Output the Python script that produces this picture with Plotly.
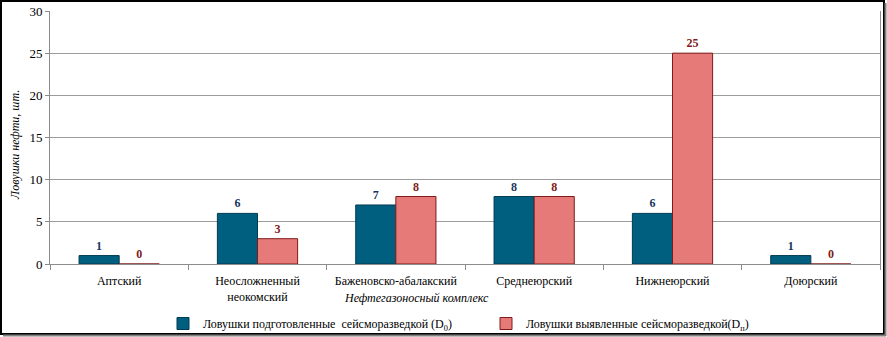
import plotly.graph_objects as go

# Oil-trap counts by petroleum complex
complexes = ["Аптский", "Неосложненный<br>неокомский", "Баженовско-абалакский",
             "Среднеюрский", "Нижнеюрский", "Доюрский"]
prepared = [1, 6, 7, 8, 6, 1]
identified = [0, 3, 8, 8, 25, 0]

name_prepared = "Ловушки подготовленные  сейсморазведкой (D<sub>0</sub>)"
name_identified = "Ловушки выявленные сейсморазведкой(D<sub>п</sub>)"

serif = "Liberation Serif"

# plot-area geometry in pixels
W, H = 887, 337
L, R, T, B = 50, 7, 11, 73
pw, ph = W - L - R, H - T - B


def px_x(x):
    return (x - L) / pw


def px_y(y):
    return (H - B - y) / ph


fig = go.Figure()
fig.add_trace(go.Bar(
    x=complexes, y=prepared, name=name_prepared,
    marker=dict(color="#005F7F", line=dict(color="#003B52", width=1)),
    text=prepared, textposition="outside", cliponaxis=False,
    textfont=dict(family=serif, size=12, color="#17365D"),
    texttemplate="<b>%{text}</b>",
))
fig.add_trace(go.Bar(
    x=complexes, y=identified, name=name_identified,
    marker=dict(color="#E57A78", line=dict(color="#7F1A1A", width=1)),
    text=identified, textposition="outside", cliponaxis=False,
    textfont=dict(family=serif, size=12, color="#7F1A1A"),
    texttemplate="<b>%{text}</b>",
))

fig.update_layout(
    width=W, height=H,
    margin=dict(l=L, r=R, t=T, b=B, pad=0, autoexpand=False),
    paper_bgcolor="white", plot_bgcolor="white",
    barmode="group", bargap=0.42, bargroupgap=0,
    font=dict(family=serif, size=12, color="black"),
    showlegend=True,
    legend=dict(
        orientation="h", x=px_x(163), y=px_y(309), xanchor="left", yanchor="top",
        font=dict(family=serif, size=12, color="black"),
        entrywidth=278, entrywidthmode="pixels",
        itemwidth=30, bgcolor="rgba(0,0,0,0)",
    ),
    xaxis=dict(
        type="category", showline=True, linecolor="#8C8C8C", linewidth=1,
        ticks="outside", tickson="boundaries", ticklen=5, tickcolor="#8C8C8C",
        tickfont=dict(family=serif, size=12, color="black"),
        ticklabelstandoff=6,
        showgrid=False,
    ),
    yaxis=dict(
        range=[0, 30], dtick=5, showline=True, mirror=True,
        linecolor="#8C8C8C", linewidth=1,
        ticks="outside", ticklen=4, tickcolor="#8C8C8C",
        showgrid=True, gridcolor="#9C9C9C", gridwidth=1,
        tickfont=dict(family=serif, size=13, color="black"),
        zeroline=False,
    ),
    annotations=[
        dict(text="<i>Нефтегазоносный комплекс</i>", xref="paper", yref="paper",
             x=px_x(416), y=px_y(298), xanchor="center", yanchor="middle",
             showarrow=False, font=dict(family=serif, size=12, color="black")),
        dict(text="<i>Ловушки нефти, шт.</i>", xref="paper", yref="paper",
             x=px_x(15), y=px_y(145), xanchor="center", yanchor="middle",
             textangle=-90, showarrow=False,
             font=dict(family=serif, size=12, color="black")),
    ],
    shapes=[
        # outer frame of the chart
        dict(type="rect", xref="paper", yref="paper",
             x0=px_x(1), x1=px_x(W - 3), y0=px_y(H - 3), y1=px_y(1),
             line=dict(color="black", width=2), layer="above"),
        # shadow along right and bottom edges
        dict(type="line", xref="paper", yref="paper",
             x0=px_x(3), x1=px_x(W - 1), y0=px_y(H - 1.5), y1=px_y(H - 1.5),
             line=dict(color="#808080", width=2), layer="above"),
        dict(type="line", xref="paper", yref="paper",
             x0=px_x(W - 1.5), x1=px_x(W - 1.5), y0=px_y(H - 1), y1=px_y(3),
             line=dict(color="#808080", width=2), layer="above"),
    ],
)

fig.write_html("out.html")
